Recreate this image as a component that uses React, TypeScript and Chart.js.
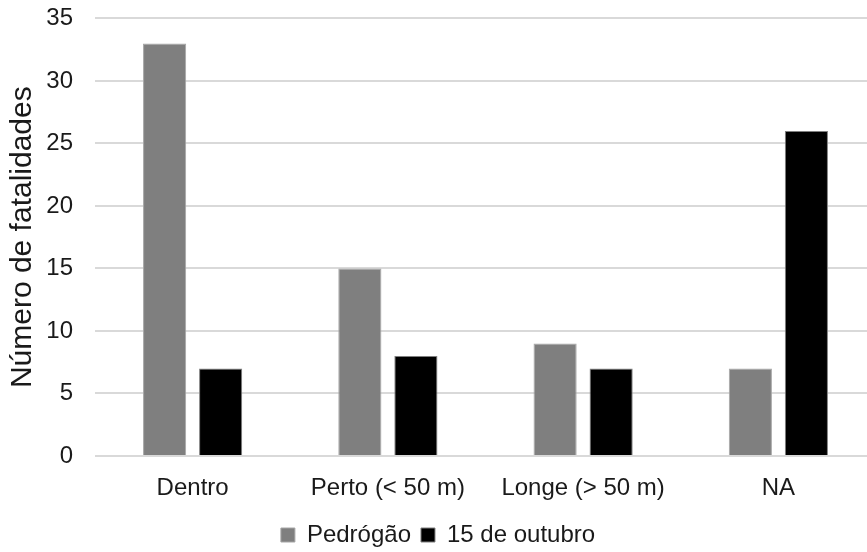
import React, { useEffect, useRef } from "react";
import { Chart, registerables } from "chart.js";

Chart.register(...registerables);

const categories = ["Dentro", "Perto (< 50 m)", "Longe (> 50 m)", "NA"];
const pedrogao = [33, 15, 9, 7];
const outubro = [7, 8, 7, 26];
const seriesNames = ["Pedrógão", "15 de outubro"];
const yTitle = "Número de fatalidades";

export default function App() {
  const ref = useRef<HTMLCanvasElement | null>(null);
  useEffect(() => {
    document.body.style.margin = "0";
    const ctx = ref.current!;
    const font = "'Liberation Sans', Arial, sans-serif";
    const chart = new Chart(ctx, {
      type: "bar",
      data: {
        labels: categories,
        datasets: [
          {
            label: seriesNames[0],
            data: pedrogao,
            backgroundColor: "#7f7f7f",
            borderColor: "#a6a6a6",
            borderWidth: 1,
          },
          {
            label: seriesNames[1],
            data: outubro,
            backgroundColor: "#000000",
            borderColor: "#7f7f7f",
            borderWidth: 1,
          },
        ],
      },
      options: {
        responsive: false,
        animation: false,
        devicePixelRatio: 1,
        layout: { padding: { top: 0, right: 0, left: 0, bottom: 0 } },
        datasets: { bar: { categoryPercentage: 0.574, barPercentage: 0.77 } },
        plugins: {
          tooltip: { enabled: false },
          legend: {
            position: "bottom",
            labels: {
              font: { family: font, size: 24 },
              color: "#1a1a1a",
              boxWidth: 14,
              boxHeight: 14,
              padding: 10,
            },
          },
        },
        scales: {
          x: {
            grid: { display: false, drawTicks: false },
            border: { display: false },
            ticks: { font: { family: font, size: 24 }, color: "#1a1a1a", padding: 18 },
            afterFit: (s: any) => { s.height = 57; },
          },
          y: {
            min: 0,
            max: 35,
            ticks: { stepSize: 5, font: { family: font, size: 24 }, color: "#1a1a1a", padding: 22 },
            grid: { color: "#d9d9d9", lineWidth: 2, drawTicks: false },
            border: { display: false },
            afterFit: (s: any) => { s.width = 95; },
            title: {
              display: true,
              text: yTitle,
              font: { family: font, size: 30 },
              color: "#1a1a1a",
              padding: { top: 5, bottom: 0 },
            },
          },
        },
      },
    });
    return () => chart.destroy();
  }, []);
  return (
    <div style={{ position: "absolute", left: 0, top: 0, width: 867, height: 552, overflow: "hidden", background: "#fff" }}>
      <canvas ref={ref} width={876} height={575} style={{ position: "absolute", left: 0, top: -18 }} />
    </div>
  );
}
